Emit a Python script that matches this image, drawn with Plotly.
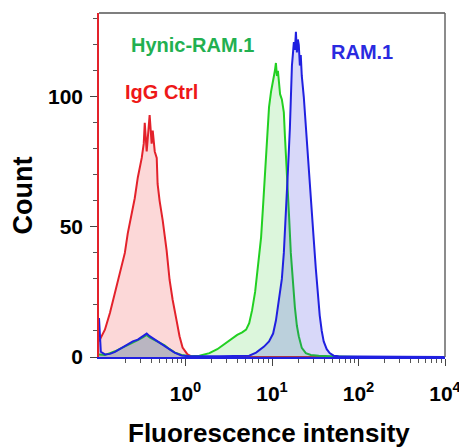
import plotly.graph_objects as go

# ---- data (fluorescence intensity, count) ----
igg_x = [0.100, 0.117, 0.134, 0.153, 0.174, 0.199, 0.215, 0.239, 0.259, 0.281,
         0.312, 0.329, 0.338, 0.356, 0.366, 0.385, 0.406, 0.418, 0.441, 0.465,
         0.476, 0.502, 0.545, 0.605, 0.655, 0.710, 0.789, 0.853, 0.925, 1.054,
         1.202, 3.0, 10.0, 100.0, 1000.0]
igg_y = [6, 10.5, 17, 24.5, 32, 40, 47.5, 55, 61, 69,
         76.5, 82, 90, 79, 85.6, 93, 82, 87, 79, 76.5,
         66.5, 60, 52.5, 41, 29.6, 22, 14, 8, 3.6, 1,
         0, 0, 0, 0, 0]

hynic_x = [0.100, 0.117, 0.134, 0.153, 0.184, 0.215, 0.246, 0.281, 0.321, 0.356,
           0.385, 0.441, 0.502, 0.574, 0.655, 0.748, 0.899, 1.11, 1.45, 1.89,
           2.33, 2.81, 3.38, 3.96, 4.52, 5.02, 5.45, 5.89, 6.38, 6.90,
           7.48, 7.88, 8.31, 8.77, 9.24, 9.75, 10.3, 10.8, 11.1, 11.4,
           11.7, 12.4, 13.0, 13.7, 14.1, 14.9, 15.7, 16.5, 17.4, 18.4,
           19.4, 20.4, 22.1, 24.6, 28.1, 34.7, 58.9, 100.0, 1000.0]
hynic_y = [1, 0.8, 1.5, 2.2, 3.5, 4.5, 5.5, 6.5, 7.5, 8.5,
           7.5, 6.5, 5.5, 4.5, 3, 1.8, 0.8, 0.3, 0.5, 1.5,
           3, 5, 7, 8.5, 9.5, 10.5, 13, 18, 25, 35,
           46, 58, 72, 85, 96, 102, 106, 110, 113, 108,
           110, 101, 99, 94, 85, 72, 55, 40, 28, 19,
           12, 8, 3.5, 1.5, 0.8, 0.5, 0.2, 0, 0]

ram_x = [0.100, 0.105, 0.117, 0.134, 0.153, 0.184, 0.215, 0.246, 0.281, 0.321,
         0.356, 0.385, 0.441, 0.502, 0.574, 0.655, 0.748, 0.899, 1.11, 2.46,
         5.45, 6.55, 8.09, 9.24, 10.3, 11.1, 12.0, 13.0, 13.7, 14.5,
         15.3, 16.1, 16.5, 17.0, 17.4, 17.9, 18.4, 18.9, 19.4, 19.9,
         20.4, 21.0, 21.5, 22.1, 23.3, 24.6, 25.9, 27.3, 28.8, 30.4,
         32.1, 33.8, 35.6, 37.6, 39.6, 42.9, 46.4, 51.6, 58.9, 100.0,
         1000.0]
ram_y = [15, 2, 1, 1.2, 2, 3.5, 5, 6, 6.7, 8,
         9, 8, 6.7, 5.5, 4, 2.9, 1.7, 0.6, 0.3, 0.3,
         0.5, 1.7, 4, 6, 9, 14, 21, 30, 40, 55,
         72, 88, 100, 112, 116, 121, 118, 125, 117, 122,
         120, 112, 116, 108, 100, 88, 76, 65, 55, 45,
         34, 24, 16, 10, 6, 3, 1.5, 0.5, 0.3, 0.2,
         0]

x_tickvals = [1, 10, 100, 1000]
x_ticktext = ["10<sup>0</sup>", "10<sup>1</sup>", "10<sup>2</sup>", "10<sup>4</sup>"]
x_minor = [m * d for d in (0.1, 1, 10, 100) for m in range(2, 10)]
y_tickvals = [0, 50, 100]

FONT = "Liberation Sans, Arial, sans-serif"

fig = go.Figure()
fig.add_trace(go.Scatter(x=igg_x, y=igg_y, mode="lines",
                         line=dict(color="#e3222b", width=2),
                         fill="tozeroy", fillcolor="rgba(240,60,60,0.2)",
                         name="IgG Ctrl"))
fig.add_trace(go.Scatter(x=hynic_x, y=hynic_y, mode="lines",
                         line=dict(color="#22d022", width=2),
                         fill="tozeroy", fillcolor="rgba(40,200,40,0.16)",
                         name="Hynic-RAM.1"))
fig.add_trace(go.Scatter(x=ram_x, y=ram_y, mode="lines",
                         line=dict(color="#2020e0", width=2),
                         fill="tozeroy", fillcolor="rgba(40,40,220,0.18)",
                         name="RAM.1"))

# the page adds an 8px body margin, so the figure is 8px smaller on each lead side
fig.update_layout(
    width=459, height=439,
    margin=dict(l=91, r=20, t=5, b=90),
    paper_bgcolor="white", plot_bgcolor="white",
    showlegend=False,
    font=dict(family=FONT, color="black"),
    xaxis=dict(type="log", range=[-1, 3], showgrid=False, zeroline=False,
               showline=True, linecolor="#2020e0", linewidth=1.5,
               tickmode="array", tickvals=x_tickvals, ticktext=x_ticktext,
               ticks="outside", ticklen=7, tickwidth=1.3, tickcolor="#444",
               ticklabelstandoff=10,
               tickfont=dict(size=21, family=FONT, weight="bold", color="black"),
               minor=dict(tickvals=x_minor, ticks="outside", ticklen=4,
                          tickwidth=1, tickcolor="#555", showgrid=False)),
    yaxis=dict(range=[0, 132.2], showgrid=False, zeroline=False,
               showline=True, linecolor="#e3222b", linewidth=1.5,
               tickmode="array", tickvals=y_tickvals,
               ticks="outside", ticklen=7, tickwidth=1.3, tickcolor="#444",
               ticklabelstandoff=3,
               tickfont=dict(size=21, family=FONT, weight="bold", color="black"),
               minor=dict(dtick=10, ticks="outside", ticklen=4, tickwidth=1,
                          tickcolor="#555", showgrid=False)),
)

# top and right frame
fig.add_shape(type="line", xref="paper", yref="paper", x0=0, x1=1, y0=1, y1=1,
              line=dict(color="#555", width=1.5))
fig.add_shape(type="line", xref="paper", yref="paper", x0=1, x1=1, y0=0, y1=1,
              line=dict(color="#666", width=1.5))

# axis titles
fig.add_annotation(text="Fluorescence intensity", xref="paper", yref="paper",
                   x=(269.5 - 99) / 348, y=-(433 - 357) / 344, showarrow=False,
                   xanchor="center", yanchor="middle",
                   font=dict(size=26, family=FONT, weight="bold", color="black"))
fig.add_annotation(text="Count", xref="paper", yref="paper",
                   x=-(99 - 23) / 348, y=(357 - 195) / 344, showarrow=False,
                   textangle=-90, xanchor="center", yanchor="middle",
                   font=dict(size=27, family=FONT, weight="bold", color="black"))

# series labels
fig.add_annotation(text="Hynic-RAM.1", xref="paper", yref="paper",
                   x=(193.5 - 99) / 348, y=(357 - 45) / 344, showarrow=False,
                   xanchor="center", yanchor="middle",
                   font=dict(size=20, family=FONT, weight="bold", color="#22b050"))
fig.add_annotation(text="IgG Ctrl", xref="paper", yref="paper",
                   x=(161.5 - 99) / 348, y=(357 - 92) / 344, showarrow=False,
                   xanchor="center", yanchor="middle",
                   font=dict(size=20, family=FONT, weight="bold", color="#ee1818"))
fig.add_annotation(text="RAM.1", xref="paper", yref="paper",
                   x=(363.5 - 99) / 348, y=(357 - 52) / 344, showarrow=False,
                   xanchor="center", yanchor="middle",
                   font=dict(size=20, family=FONT, weight="bold", color="#2a2ae0"))

fig.write_html("out.html")
